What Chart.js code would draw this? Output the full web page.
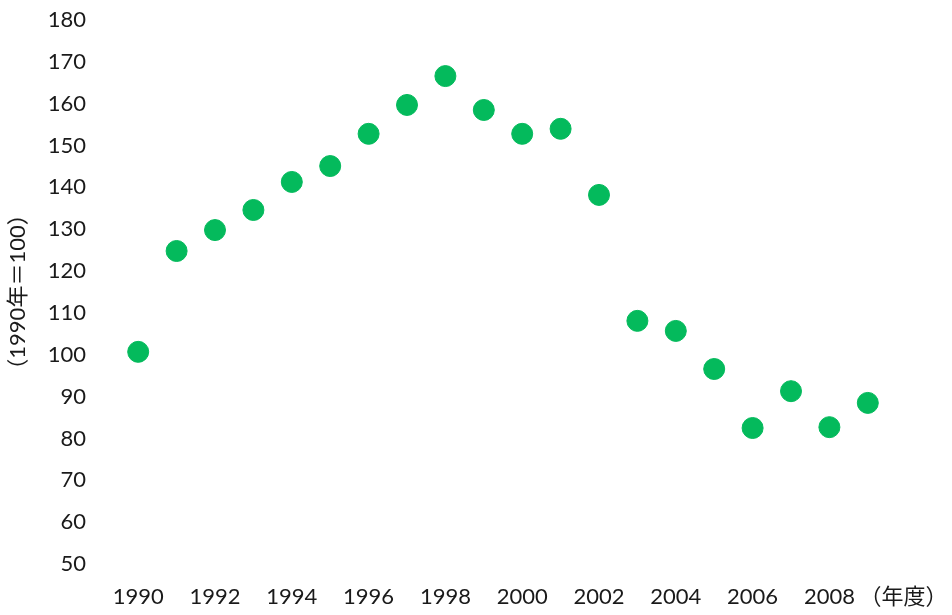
<!DOCTYPE html>
<html lang="ja">
<head>
    <meta charset="UTF-8">
    <title>指数の推移</title>
    <script src="https://cdn.jsdelivr.net/npm/chart.js"></script>
    <style>
        html, body { margin: 0; padding: 0; background: #fff; }
        .wrap { width: 952px; height: 615px; position: relative; }
    </style>
</head>
<body>
    <div class="wrap"><canvas id="chart"></canvas></div>
    <script>
        // 年度と指数（1990年＝100）
        const years = [1990, 1991, 1992, 1993, 1994, 1995, 1996, 1997, 1998, 1999,
                       2000, 2001, 2002, 2003, 2004, 2005, 2006, 2007, 2008, 2009];
        const values = [100.7, 124.8, 129.8, 134.6, 141.3, 145.1, 152.8, 159.7, 166.6, 158.5,
                        152.8, 154.0, 138.2, 108.1, 105.7, 96.6, 82.5, 91.3, 82.7, 88.5];
        const xTicks = [1990, 1992, 1994, 1996, 1998, 2000, 2002, 2004, 2006, 2008];
        const yTitle = '（1990年＝100）';
        const xUnit = '（年度）';

        const fontFamily = 'Lato, "Noto Sans CJK JP", sans-serif';

        // 軸の見出し（縦書き回転）と単位
        const axisLabels = {
            id: 'axisLabels',
            afterDraw(chart) {
                const c = chart.ctx;
                const x = chart.scales.x;
                const y = chart.scales.y;
                c.save();
                c.font = '22px ' + fontFamily;
                c.fillStyle = '#1a1a1a';
                c.textBaseline = 'middle';
                c.textAlign = 'left';
                c.fillText(xUnit, x.getPixelForValue(2008) + 30, 597);
                c.translate(18, (y.top + y.bottom) / 2);
                c.rotate(-Math.PI / 2);
                c.textAlign = 'center';
                c.fillText(yTitle, 0, 0);
                c.restore();
            }
        };

        new Chart(document.getElementById('chart'), {
            type: 'scatter',
            data: {
                datasets: [{
                    data: years.map((y, i) => ({ x: y, y: values[i] })),
                    backgroundColor: '#04BA5C',
                    borderColor: '#04BA5C',
                    pointRadius: 10.5,
                    pointHoverRadius: 10.5
                }]
            },
            options: {
                responsive: true,
                maintainAspectRatio: false,
                animation: false,
                layout: { padding: { top: 20, right: 65, left: 19, bottom: 0 } },
                plugins: { legend: { display: false }, tooltip: { enabled: false } },
                scales: {
                    x: {
                        type: 'linear',
                        min: 1989.5,
                        max: 2009.5,
                        grid: { display: false, drawTicks: false },
                        border: { display: false },
                        afterBuildTicks: axis => { axis.ticks = xTicks.map(v => ({ value: v })); },
                        afterFit: axis => { axis.height = 51; axis.paddingLeft = 0; axis.paddingRight = 0; },
                        ticks: {
                            color: '#1a1a1a',
                            font: { size: 22, family: fontFamily },
                            padding: 20,
                            maxRotation: 0,
                            autoSkip: false,
                            callback: v => String(v)
                        }
                    },
                    y: {
                        min: 50,
                        max: 180,
                        grid: { display: false, drawTicks: false },
                        border: { display: false },
                        afterFit: axis => { axis.width = 100; axis.paddingTop = 0; axis.paddingBottom = 0; },
                        ticks: {
                            stepSize: 10,
                            color: '#1a1a1a',
                            font: { size: 22, family: fontFamily },
                            padding: 33
                        }
                    }
                }
            },
            plugins: [axisLabels]
        });
    </script>
</body>
</html>
